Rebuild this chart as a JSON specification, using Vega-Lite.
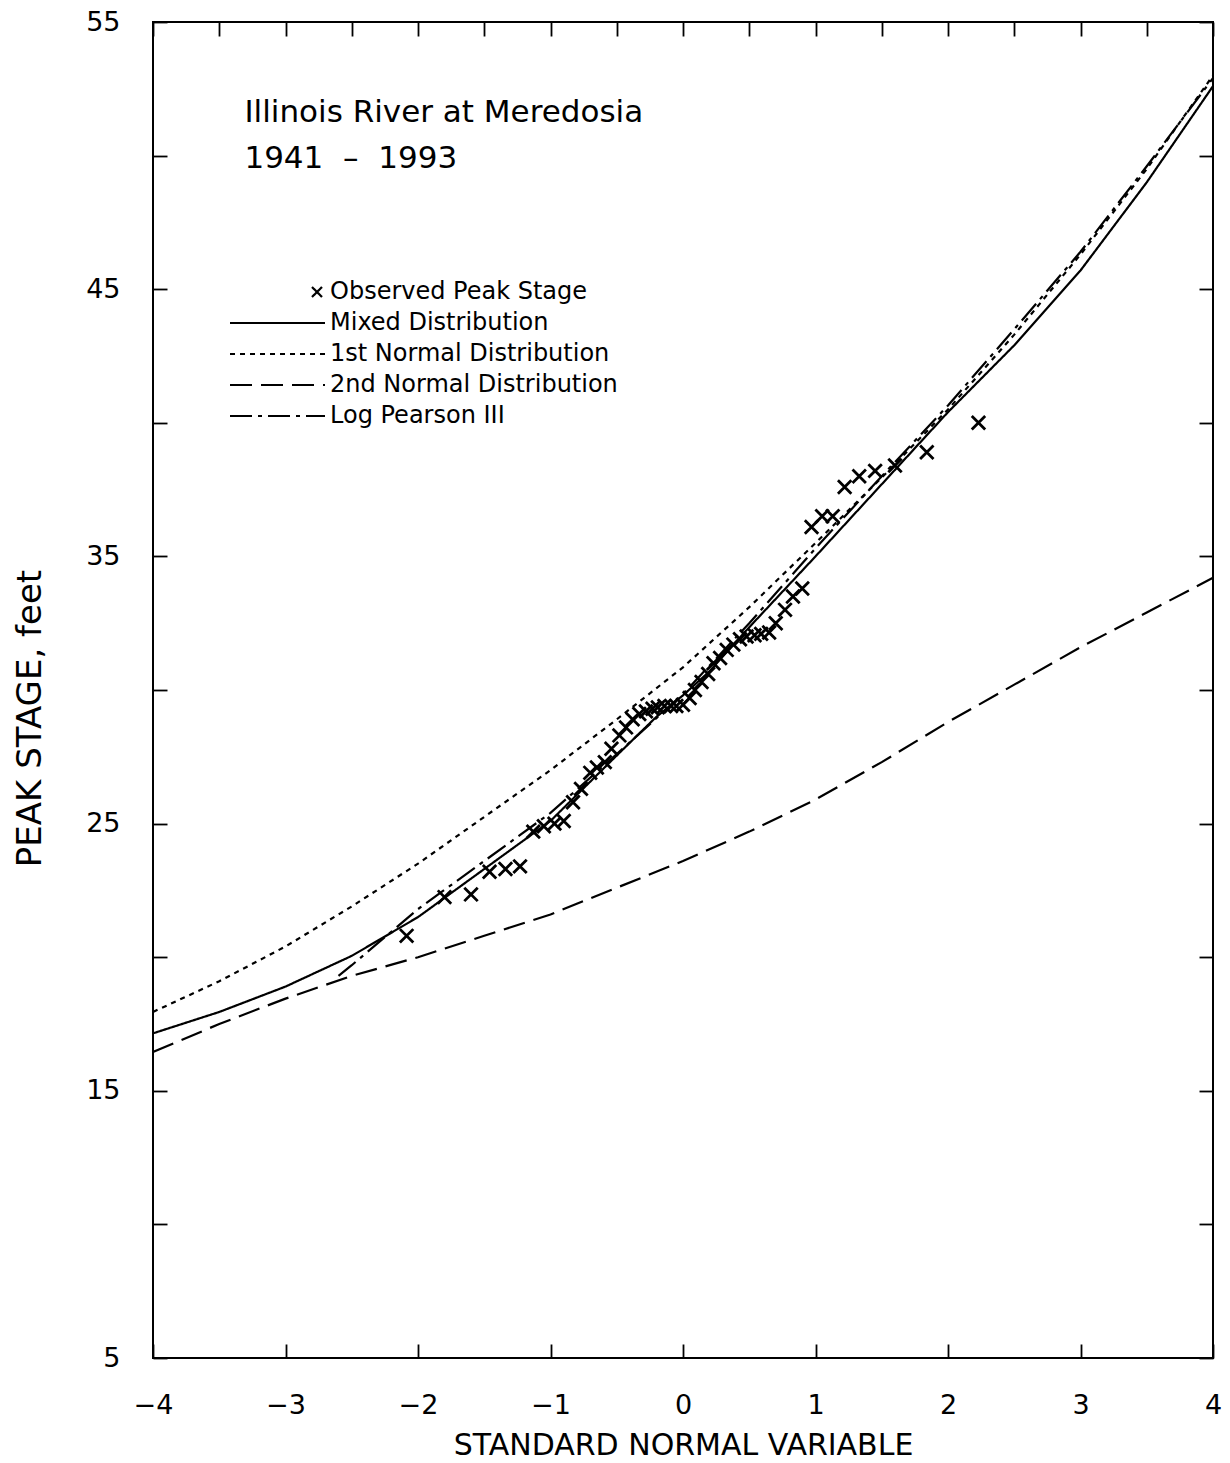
{
  "$schema": "https://vega.github.io/schema/vega-lite/v6.json",
  "width": 1060,
  "height": 1336,
  "autosize": {"type": "none"},
  "padding": {"left": 153, "top": 22, "right": 17, "bottom": 105},
  "background": "white",
  "config": {
    "view": {"stroke": "black", "strokeWidth": 2},
    "font": "DejaVu Sans",
    "axis": {
      "domain": false,
      "grid": false,
      "tickColor": "black",
      "tickWidth": 1.8,
      "tickSize": -14,
      "labelFont": "DejaVu Sans",
      "labelFontSize": 27,
      "labelColor": "black",
      "labelFlush": false,
      "labelOverlap": false,
      "titleFont": "DejaVu Sans",
      "titleFontWeight": "normal",
      "titleColor": "black"
    }
  },
  "datasets": {
    "curves": [
      {"series": "Mixed Distribution", "x": -4, "y": 17.15},
      {"series": "Mixed Distribution", "x": -3.5, "y": 17.95},
      {"series": "Mixed Distribution", "x": -3, "y": 18.9},
      {"series": "Mixed Distribution", "x": -2.5, "y": 20.05},
      {"series": "Mixed Distribution", "x": -2, "y": 21.5},
      {"series": "Mixed Distribution", "x": -1.5, "y": 23.3},
      {"series": "Mixed Distribution", "x": -1, "y": 25.1},
      {"series": "Mixed Distribution", "x": -0.5, "y": 27.55},
      {"series": "Mixed Distribution", "x": -0.2, "y": 29.0},
      {"series": "Mixed Distribution", "x": 0, "y": 29.8},
      {"series": "Mixed Distribution", "x": 0.2, "y": 30.7},
      {"series": "Mixed Distribution", "x": 0.5, "y": 32.35},
      {"series": "Mixed Distribution", "x": 1, "y": 35.0},
      {"series": "Mixed Distribution", "x": 1.5, "y": 37.7},
      {"series": "Mixed Distribution", "x": 2, "y": 40.4},
      {"series": "Mixed Distribution", "x": 2.5, "y": 42.9},
      {"series": "Mixed Distribution", "x": 3, "y": 45.7},
      {"series": "Mixed Distribution", "x": 3.5, "y": 49.0},
      {"series": "Mixed Distribution", "x": 4, "y": 52.6},
      {"series": "1st Normal Distribution", "x": -4, "y": 17.95},
      {"series": "1st Normal Distribution", "x": -3.5, "y": 19.1},
      {"series": "1st Normal Distribution", "x": -3, "y": 20.4},
      {"series": "1st Normal Distribution", "x": -2.5, "y": 21.9},
      {"series": "1st Normal Distribution", "x": -2, "y": 23.5},
      {"series": "1st Normal Distribution", "x": -1.5, "y": 25.25},
      {"series": "1st Normal Distribution", "x": -1, "y": 27.0},
      {"series": "1st Normal Distribution", "x": -0.5, "y": 28.9},
      {"series": "1st Normal Distribution", "x": 0, "y": 30.85},
      {"series": "1st Normal Distribution", "x": 0.5, "y": 33.1},
      {"series": "1st Normal Distribution", "x": 1, "y": 35.5},
      {"series": "1st Normal Distribution", "x": 1.5, "y": 37.95},
      {"series": "1st Normal Distribution", "x": 2, "y": 40.5},
      {"series": "1st Normal Distribution", "x": 2.5, "y": 43.3},
      {"series": "1st Normal Distribution", "x": 3, "y": 46.3},
      {"series": "1st Normal Distribution", "x": 3.5, "y": 49.5},
      {"series": "1st Normal Distribution", "x": 4, "y": 53.0},
      {"series": "2nd Normal Distribution", "x": -4, "y": 16.45},
      {"series": "2nd Normal Distribution", "x": -3.5, "y": 17.5},
      {"series": "2nd Normal Distribution", "x": -3, "y": 18.45},
      {"series": "2nd Normal Distribution", "x": -2.5, "y": 19.3},
      {"series": "2nd Normal Distribution", "x": -2, "y": 20.0},
      {"series": "2nd Normal Distribution", "x": -1.5, "y": 20.8},
      {"series": "2nd Normal Distribution", "x": -1, "y": 21.6},
      {"series": "2nd Normal Distribution", "x": -0.5, "y": 22.6},
      {"series": "2nd Normal Distribution", "x": 0, "y": 23.6},
      {"series": "2nd Normal Distribution", "x": 0.5, "y": 24.7},
      {"series": "2nd Normal Distribution", "x": 1, "y": 25.9},
      {"series": "2nd Normal Distribution", "x": 1.5, "y": 27.3},
      {"series": "2nd Normal Distribution", "x": 2, "y": 28.8},
      {"series": "2nd Normal Distribution", "x": 2.5, "y": 30.2},
      {"series": "2nd Normal Distribution", "x": 3, "y": 31.6},
      {"series": "2nd Normal Distribution", "x": 3.5, "y": 32.9},
      {"series": "2nd Normal Distribution", "x": 4, "y": 34.2},
      {"series": "Log Pearson III", "x": -2.6, "y": 19.3},
      {"series": "Log Pearson III", "x": -2.5, "y": 19.7},
      {"series": "Log Pearson III", "x": -2, "y": 21.8},
      {"series": "Log Pearson III", "x": -1.5, "y": 23.6},
      {"series": "Log Pearson III", "x": -1, "y": 25.4},
      {"series": "Log Pearson III", "x": -0.5, "y": 27.6},
      {"series": "Log Pearson III", "x": 0, "y": 29.85},
      {"series": "Log Pearson III", "x": 0.5, "y": 32.5},
      {"series": "Log Pearson III", "x": 1, "y": 35.3},
      {"series": "Log Pearson III", "x": 1.5, "y": 38.0},
      {"series": "Log Pearson III", "x": 2, "y": 40.65},
      {"series": "Log Pearson III", "x": 2.5, "y": 43.5},
      {"series": "Log Pearson III", "x": 3, "y": 46.4},
      {"series": "Log Pearson III", "x": 3.5, "y": 49.6},
      {"series": "Log Pearson III", "x": 4, "y": 52.9}
    ],
    "observed": [
      {"series": "Observed Peak Stage", "x": -2.086, "y": 20.8},
      {"series": "Observed Peak Stage", "x": -1.8, "y": 22.25},
      {"series": "Observed Peak Stage", "x": -1.6, "y": 22.35},
      {"series": "Observed Peak Stage", "x": -1.46, "y": 23.2},
      {"series": "Observed Peak Stage", "x": -1.34, "y": 23.3},
      {"series": "Observed Peak Stage", "x": -1.23, "y": 23.4},
      {"series": "Observed Peak Stage", "x": -1.13, "y": 24.7},
      {"series": "Observed Peak Stage", "x": -1.05, "y": 24.9},
      {"series": "Observed Peak Stage", "x": -0.97, "y": 25.0},
      {"series": "Observed Peak Stage", "x": -0.9, "y": 25.1},
      {"series": "Observed Peak Stage", "x": -0.83, "y": 25.8},
      {"series": "Observed Peak Stage", "x": -0.77, "y": 26.3},
      {"series": "Observed Peak Stage", "x": -0.7, "y": 26.9},
      {"series": "Observed Peak Stage", "x": -0.65, "y": 27.1},
      {"series": "Observed Peak Stage", "x": -0.59, "y": 27.3},
      {"series": "Observed Peak Stage", "x": -0.54, "y": 27.8},
      {"series": "Observed Peak Stage", "x": -0.48, "y": 28.3},
      {"series": "Observed Peak Stage", "x": -0.43, "y": 28.6},
      {"series": "Observed Peak Stage", "x": -0.38, "y": 28.9},
      {"series": "Observed Peak Stage", "x": -0.33, "y": 29.1},
      {"series": "Observed Peak Stage", "x": -0.28, "y": 29.2},
      {"series": "Observed Peak Stage", "x": -0.23, "y": 29.3},
      {"series": "Observed Peak Stage", "x": -0.19, "y": 29.35},
      {"series": "Observed Peak Stage", "x": -0.14, "y": 29.4},
      {"series": "Observed Peak Stage", "x": -0.09, "y": 29.4},
      {"series": "Observed Peak Stage", "x": -0.05, "y": 29.4},
      {"series": "Observed Peak Stage", "x": 0, "y": 29.45},
      {"series": "Observed Peak Stage", "x": 0.05, "y": 29.7},
      {"series": "Observed Peak Stage", "x": 0.09, "y": 30.0},
      {"series": "Observed Peak Stage", "x": 0.14, "y": 30.3},
      {"series": "Observed Peak Stage", "x": 0.19, "y": 30.6},
      {"series": "Observed Peak Stage", "x": 0.23, "y": 31.0},
      {"series": "Observed Peak Stage", "x": 0.28, "y": 31.2},
      {"series": "Observed Peak Stage", "x": 0.33, "y": 31.5},
      {"series": "Observed Peak Stage", "x": 0.38, "y": 31.7},
      {"series": "Observed Peak Stage", "x": 0.43, "y": 31.9},
      {"series": "Observed Peak Stage", "x": 0.48, "y": 32.0},
      {"series": "Observed Peak Stage", "x": 0.54, "y": 32.05},
      {"series": "Observed Peak Stage", "x": 0.59, "y": 32.1},
      {"series": "Observed Peak Stage", "x": 0.65, "y": 32.15},
      {"series": "Observed Peak Stage", "x": 0.7, "y": 32.5},
      {"series": "Observed Peak Stage", "x": 0.77, "y": 33.0},
      {"series": "Observed Peak Stage", "x": 0.83, "y": 33.5},
      {"series": "Observed Peak Stage", "x": 0.9, "y": 33.8},
      {"series": "Observed Peak Stage", "x": 0.97, "y": 36.1},
      {"series": "Observed Peak Stage", "x": 1.05, "y": 36.5},
      {"series": "Observed Peak Stage", "x": 1.13, "y": 36.5},
      {"series": "Observed Peak Stage", "x": 1.22, "y": 37.6},
      {"series": "Observed Peak Stage", "x": 1.33, "y": 38.0},
      {"series": "Observed Peak Stage", "x": 1.45, "y": 38.2},
      {"series": "Observed Peak Stage", "x": 1.6, "y": 38.4},
      {"series": "Observed Peak Stage", "x": 1.84, "y": 38.9},
      {"series": "Observed Peak Stage", "x": 2.23, "y": 40.0}
    ],
    "notes": [
      {"x": -3.31, "y": 51.25, "text": "Illinois River at Meredosia"},
      {"x": -3.31, "y": 49.55, "text": "1941\u00a0\u00a0–\u00a0\u00a01993"}
    ]
  },
  "resolve": {"axis": {"x": "independent", "y": "independent"}},
  "layer": [
    {
      "data": {"name": "curves"},
      "mark": {"type": "line", "color": "black", "strokeWidth": 2.2, "clip": true},
      "encoding": {
        "x": {
          "field": "x", "type": "quantitative",
          "scale": {"domain": [-4, 4], "nice": false, "zero": false},
          "axis": {
            "orient": "bottom",
            "values": [-4, -3.5, -3, -2.5, -2, -1.5, -1, -0.5, 0, 0.5, 1, 1.5, 2, 2.5, 3, 3.5, 4],
            "format": "d",
            "labelExpr": "datum.value % 1 === 0 ? datum.label : ''",
            "labelPadding": 48,
            "title": "STANDARD NORMAL VARIABLE",
            "titleFontSize": 30,
            "titleBaseline": "middle",
            "titleY": 87
          }
        },
        "y": {
          "field": "y", "type": "quantitative",
          "scale": {"domain": [5, 55], "nice": false, "zero": false},
          "axis": {
            "orient": "left",
            "values": [5, 10, 15, 20, 25, 30, 35, 40, 45, 50, 55],
            "format": "d",
            "labelExpr": "datum.value % 10 === 5 ? datum.label : ''",
            "labelPadding": 47,
            "title": "PEAK STAGE, feet",
            "titleFontSize": 34,
            "titleAngle": -90,
            "titleBaseline": "middle",
            "titleAlign": "center",
            "titleX": -123,
            "titleY": 696
          }
        },
        "strokeDash": {
          "field": "series", "type": "nominal",
          "scale": {
            "domain": ["Observed Peak Stage", "Mixed Distribution", "1st Normal Distribution", "2nd Normal Distribution", "Log Pearson III"],
            "range": [[1, 0], [1, 0], [5, 5], [22, 9], [22, 6, 4, 6]]
          },
          "legend": {
            "title": null,
            "orient": "none",
            "legendX": 77,
            "legendY": 258,
            "labelFont": "DejaVu Sans",
            "labelFontSize": 24,
            "labelColor": "black",
            "labelLimit": 0,
            "rowPadding": 7,
            "symbolSize": 100,
            "symbolStrokeColor": "black",
            "symbolStrokeWidth": 2.2,
            "symbolFillColor": "transparent",
            "encode": {
              "symbols": {
                "update": {
                  "x": {"signal": "datum.value === 'Observed Peak Stage' ? 87 : 47.5"}
                }
              },
              "labels": {
                "update": {
                  "x": {"value": 100}
                }
              }
            }
          }
        }
      }
    },
    {
      "data": {"name": "observed"},
      "mark": {"type": "point", "filled": false, "color": "black", "strokeWidth": 2.8, "size": 180, "opacity": 1},
      "encoding": {
        "x": {
          "field": "x", "type": "quantitative",
          "axis": {
            "orient": "top",
            "values": [-4, -3.5, -3, -2.5, -2, -1.5, -1, -0.5, 0, 0.5, 1, 1.5, 2, 2.5, 3, 3.5, 4],
            "labels": false,
            "title": null
          }
        },
        "y": {
          "field": "y", "type": "quantitative",
          "axis": {
            "orient": "right",
            "values": [5, 10, 15, 20, 25, 30, 35, 40, 45, 50, 55],
            "labels": false,
            "title": null
          }
        },
        "shape": {
          "field": "series", "type": "nominal",
          "scale": {
            "domain": ["Observed Peak Stage", "Mixed Distribution", "1st Normal Distribution", "2nd Normal Distribution", "Log Pearson III"],
            "range": ["M-1,-1L1,1M-1,1L1,-1", "M-9.5,0L9.5,0", "M-9.5,0L9.5,0", "M-9.5,0L9.5,0", "M-9.5,0L9.5,0"]
          },
          "legend": {
            "title": null,
            "orient": "none",
            "legendX": 77,
            "legendY": 258,
            "labelFont": "DejaVu Sans",
            "labelFontSize": 24,
            "labelColor": "black",
            "labelLimit": 0,
            "rowPadding": 7,
            "symbolSize": 100,
            "symbolStrokeColor": "black",
            "symbolStrokeWidth": 2.2,
            "symbolFillColor": "transparent",
            "encode": {
              "symbols": {
                "update": {
                  "x": {"signal": "datum.value === 'Observed Peak Stage' ? 87 : 47.5"}
                }
              },
              "labels": {
                "update": {
                  "x": {"value": 100}
                }
              }
            }
          }
        }
      }
    },
    {
      "data": {"name": "notes"},
      "mark": {"type": "text", "align": "left", "baseline": "alphabetic", "font": "DejaVu Sans", "fontSize": 31, "color": "black"},
      "encoding": {
        "x": {"field": "x", "type": "quantitative", "axis": null},
        "y": {"field": "y", "type": "quantitative", "axis": null},
        "text": {"field": "text"}
      }
    }
  ]
}
